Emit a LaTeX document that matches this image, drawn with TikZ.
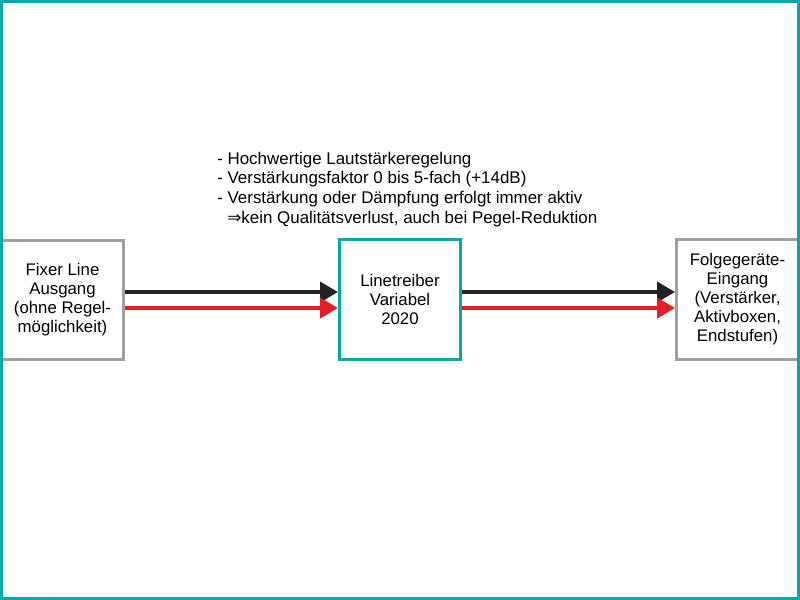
\documentclass[tikz,border=0pt]{standalone}
\usepackage{fontspec}
\setmainfont{Liberation Sans}
\newfontfamily\symfont{DejaVu Sans}
\usetikzlibrary{arrows.meta}
\definecolor{teal1}{RGB}{0,170,170}
\definecolor{gray1}{RGB}{160,160,160}
\definecolor{blk1}{RGB}{34,34,34}
\definecolor{red1}{RGB}{228,30,36}
\tikzset{
  box/.style={draw, line width=2.25pt, fill=white, align=center, inner sep=0pt,
    font=\fontsize{12.6pt}{14.3pt}\selectfont},
  graybox/.style={box, draw=gray1},
  tealbox/.style={box, draw=teal1},
  sig/.style={line width=3pt, -{Triangle[length=13.5pt,width=15pt]}},
}
\begin{document}
\begin{tikzpicture}[x=0.75pt,y=-0.75pt]
\useasboundingbox (0,0) rectangle (800,600);
\fill[white] (0,0) rectangle (800,600);
\node[graybox, minimum width=91.5pt, minimum height=89.25pt] (L) at (62.5,299.5)
  {Fixer Line\\Ausgang\\(ohne Regel-\\möglichkeit)};
\node[tealbox, minimum width=90.75pt, minimum height=90pt] (M) at (400,299.5)
  {Linetreiber\\Variabel\\2020};
\node[graybox, minimum width=91.5pt, minimum height=90pt] (R) at (737.5,299.5)
  {Folgegeräte-\\Eingang\\(Verstärker,\\Aktivboxen,\\Endstufen)};
\draw[sig, blk1] ([yshift=5.6pt]L.east) -- ([yshift=5.6pt]M.west);
\draw[sig, red1] ([yshift=-6.4pt]L.east) -- ([yshift=-6.4pt]M.west);
\draw[sig, blk1] ([yshift=5.6pt]M.east) -- ([yshift=5.6pt]R.west);
\draw[sig, red1] ([yshift=-6.4pt]M.east) -- ([yshift=-6.4pt]R.west);
\node[anchor=north west, inner sep=0pt, align=left,
  font=\fontsize{12.7pt}{14.8pt}\selectfont] (T) at (217,151.5)
  {- Hochwertige Lautstärkeregelung\\
   - Verstärkungsfaktor 0 bis 5-fach (+14dB)\\
   - Verstärkung oder Dämpfung erfolgt immer aktiv\\
   \hspace*{7.5pt}{\symfont ⇒}kein Qualitätsverlust, auch bei Pegel-Reduktion};
\draw[teal1, line width=2.25pt] (1.5,1.5) rectangle (798.5,598.5);
\end{tikzpicture}
\end{document}
